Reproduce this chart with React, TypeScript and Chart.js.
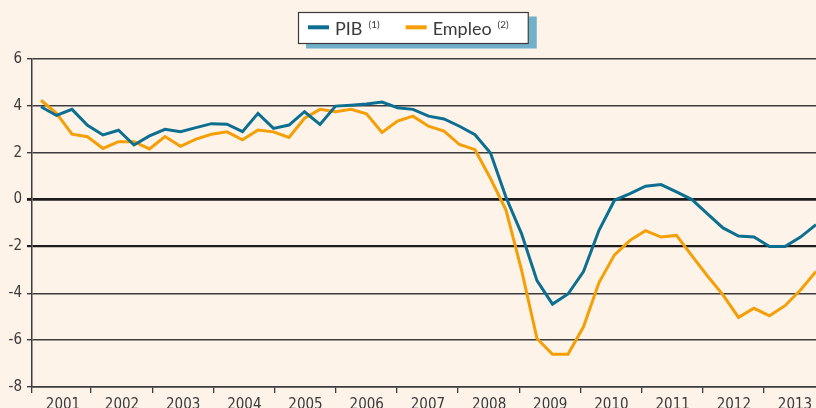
import React, { useEffect, useRef } from 'react';
import { Chart, registerables } from 'chart.js';

Chart.register(...registerables);

// ---- Data ----
const yearLabels = ['2001', '2002', '2003', '2004', '2005', '2006', '2007', '2008', '2009', '2010', '2011', '2012', '2013'];
const quarterNames = ['T1', 'T2', 'T3', 'T4'];
// 2001-T1 .. 2013-T3 (51 quarters)
const quarterLabels: string[] = yearLabels
  .flatMap((y) => quarterNames.map((q) => `${q} ${y}`))
  .slice(0, 51);

const pibValues = [
  3.96, 3.59, 3.85, 3.17, 2.76, 2.96, 2.33, 2.72, 3.0, 2.9,
  3.07, 3.24, 3.22, 2.9, 3.68, 3.04, 3.18, 3.75, 3.21, 3.99,
  4.03, 4.08, 4.16, 3.92, 3.85, 3.56, 3.44, 3.13, 2.77, 1.99,
  0.1, -1.45, -3.46, -4.46, -4.03, -3.07, -1.31, -0.03, 0.25, 0.57,
  0.64, 0.33, 0.0, -0.61, -1.21, -1.56, -1.6, -2.0, -2.0, -1.6,
  -1.07,
];

const empleoValues = [
  4.24, 3.68, 2.79, 2.68, 2.18, 2.47, 2.47, 2.16, 2.69, 2.27,
  2.58, 2.79, 2.89, 2.55, 2.97, 2.89, 2.65, 3.47, 3.85, 3.75,
  3.85, 3.66, 2.86, 3.35, 3.56, 3.13, 2.92, 2.35, 2.13, 0.9,
  -0.45, -3.0, -5.93, -6.6, -6.6, -5.43, -3.54, -2.36, -1.74, -1.33,
  -1.6, -1.53, -2.4, -3.26, -4.07, -5.03, -4.64, -4.96, -4.53, -3.86,
  -3.07,
];

const seriesNames = ['PIB', 'Empleo'];
const seriesNotes = ['(1)', '(2)'];

// ---- Styles ----
const BG = '#FDF3E9';
const PIB_COLOR = '#0C6F91';
const EMPLEO_COLOR = '#F59F06';
const GRID_COLOR = '#3c3c3c';
const TEXT_COLOR = '#3a3a3a';
const TICK_FONT = '"Liberation Sans Narrow", "DejaVu Sans Condensed", "Liberation Sans", sans-serif';
const LEGEND_FONT = 'Lato, "Open Sans", "DejaVu Sans", sans-serif';

const X_MIN = -0.58;
const X_MAX = 50;
const YEAR_MIN = 2001.036;
const YEAR_MAX = 2013.85;

const legendPlugin = {
  id: 'boxedLegend',
  afterDraw(chart: any) {
    const ctx: CanvasRenderingContext2D = chart.ctx;
    const datasets = chart.data.datasets;
    const mainFont = `18px ${LEGEND_FONT}`;
    const supFont = `10px ${LEGEND_FONT}`;
    const padL = 10;
    const padR = 20;
    const swatchW = 21;
    const swatchGap = 6;
    const supGap = 6;
    const itemGap = 26;
    ctx.save();
    const items = datasets.map((d: any, i: number) => {
      ctx.font = mainFont;
      const tw = ctx.measureText(d.label).width;
      ctx.font = supFont;
      const sw = ctx.measureText(seriesNotes[i] || '').width;
      return { label: d.label, note: seriesNotes[i] || '', color: d.borderColor, tw, sw };
    });
    let total = padL + padR;
    items.forEach((it: any, i: number) => {
      total += swatchW + swatchGap + it.tw + supGap + it.sw;
      if (i < items.length - 1) total += itemGap;
    });
    const left = 298;
    const top = 12;
    const h = 32;
    // shadow
    ctx.fillStyle = '#71B0C9';
    ctx.fillRect(left + 8, top + 4.5, total, h);
    // box
    ctx.fillStyle = '#FFFFFF';
    ctx.fillRect(left, top, total, h);
    ctx.strokeStyle = '#3a3a3a';
    ctx.lineWidth = 1.2;
    ctx.strokeRect(left + 0.5, top + 0.5, total - 1, h - 1);

    let x = left + padL;
    const baseline = top + 23;
    items.forEach((it: any) => {
      ctx.fillStyle = it.color;
      ctx.fillRect(x, top + 13.3, swatchW, 4);
      x += swatchW + swatchGap;
      ctx.fillStyle = TEXT_COLOR;
      ctx.font = mainFont;
      ctx.textBaseline = 'alphabetic';
      ctx.textAlign = 'left';
      ctx.fillText(it.label, x, baseline);
      x += it.tw + supGap;
      ctx.font = supFont;
      ctx.fillText(it.note, x, baseline - 7);
      x += it.sw + itemGap;
    });
    ctx.restore();
  },
};

const bgPlugin = {
  id: 'bgFill',
  beforeDraw(chart: any) {
    const ctx = chart.ctx;
    ctx.save();
    ctx.fillStyle = BG;
    ctx.fillRect(0, 0, chart.width, chart.height);
    ctx.restore();
  },
};

export default function App() {
  const canvasRef = useRef<HTMLCanvasElement | null>(null);

  useEffect(() => {
    if (!canvasRef.current) return;
    const toPoints = (vals: number[]) => vals.map((v, i) => ({ x: i, y: v }));
    const chart = new Chart(canvasRef.current, {
      type: 'line',
      data: {
        labels: quarterLabels,
        datasets: [
          {
            label: seriesNames[0],
            data: toPoints(pibValues),
            borderColor: PIB_COLOR,
            backgroundColor: PIB_COLOR,
            borderWidth: 3,
            pointRadius: 0,
            tension: 0,
            xAxisID: 'x',
            yAxisID: 'y',
            order: 0,
          },
          {
            label: seriesNames[1],
            data: toPoints(empleoValues),
            borderColor: EMPLEO_COLOR,
            backgroundColor: EMPLEO_COLOR,
            borderWidth: 3,
            pointRadius: 0,
            tension: 0,
            xAxisID: 'x',
            yAxisID: 'y',
            order: 1,
          },
        ],
      },
      options: {
        responsive: false,
        animation: false,
        devicePixelRatio: 1,
        layout: { padding: { top: 59, left: 0, right: 0, bottom: 0 } },
        plugins: {
          legend: { display: false },
          tooltip: { enabled: false },
          title: { display: false },
        },
        scales: {
          x: {
            type: 'linear',
            min: X_MIN,
            max: X_MAX,
            display: false,
          },
          years: {
            type: 'linear',
            axis: 'x',
            position: 'bottom',
            min: YEAR_MIN,
            max: YEAR_MAX,
            afterBuildTicks: (axis: any) => {
              axis.ticks = yearLabels.map((y, k) => ({ value: k === 0 ? YEAR_MIN : Number(y) }));
            },
            afterFit: (axis: any) => {
              axis.height = 21;
            },
            grid: {
              drawOnChartArea: false,
              drawTicks: true,
              tickLength: 6,
              color: GRID_COLOR,
              lineWidth: 1.3,
            },
            border: { display: true, color: GRID_COLOR, width: 1.5 },
            ticks: {
              autoSkip: false,
              maxRotation: 0,
              labelOffset: 31,
              padding: 3,
              color: TEXT_COLOR,
              font: { family: TICK_FONT, size: 15 },
              callback: (_v: any, i: number) => yearLabels[i],
            },
          },
          y: {
            type: 'linear',
            min: -8,
            max: 6,
            afterFit: (axis: any) => {
              axis.width = 32;
            },
            ticks: {
              stepSize: 2,
              padding: 5,
              color: TEXT_COLOR,
              font: { family: TICK_FONT, size: 15 },
            },
            grid: {
              color: (c: any) => (c.tick && (c.tick.value === 0 || c.tick.value === -2) ? '#1c1c1c' : GRID_COLOR),
              lineWidth: (c: any) => (c.tick && c.tick.value === 0 ? 2.8 : c.tick && c.tick.value === -2 ? 2.2 : 1.4),
              tickLength: 5,
            },
            border: { display: true, color: GRID_COLOR, width: 1.5 },
          },
        },
      } as any,
      plugins: [bgPlugin, legendPlugin],
    });
    return () => chart.destroy();
  }, []);

  return (
    <div style={{ position: 'fixed', left: 0, top: 0, width: 816, height: 408, background: BG }}>
      <canvas ref={canvasRef} width={816} height={408} style={{ display: 'block', width: 816, height: 408 }} />
    </div>
  );
}
